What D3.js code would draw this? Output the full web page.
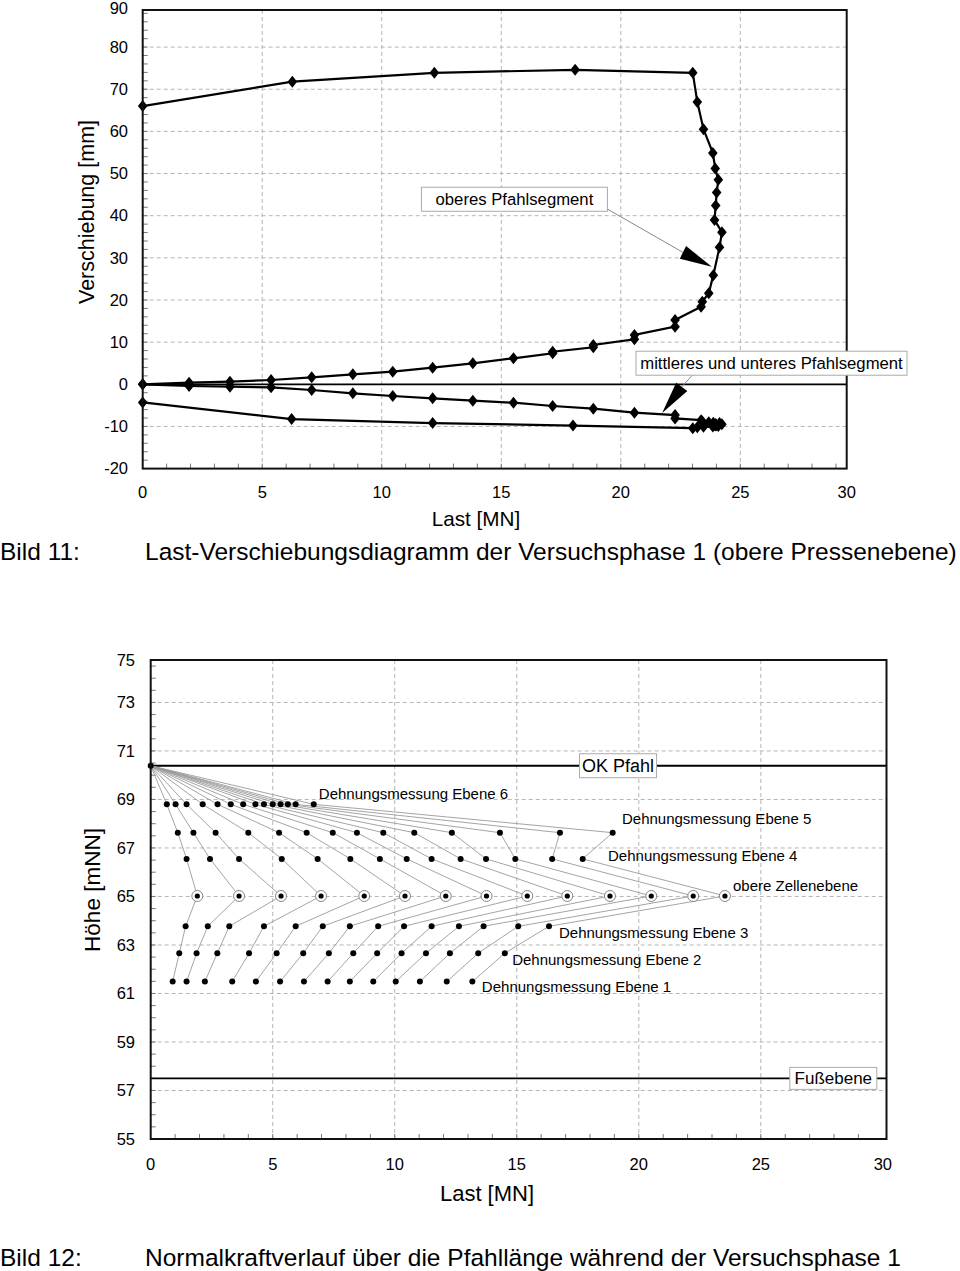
<!DOCTYPE html>
<html><head><meta charset="utf-8">
<script src="https://cdn.jsdelivr.net/npm/d3@7"></script>
<style>
body{margin:0;background:#fff}
text{font-family:"Liberation Sans",Arial,Helvetica,sans-serif;fill:#000}
</style>
</head><body>
<svg id="c" width="960" height="1271"></svg>
<script>
// ===================== DATA: chart 1 (Last-Verschiebung) =====================
const xTicks1 = [0, 5, 10, 15, 20, 25, 30];
const xTickLabels1 = ["0", "5", "10", "15", "20", "25", "30"];
const yTicks1 = [-20, -10, 0, 10, 20, 30, 40, 50, 60, 70, 80, 90];
const yTickLabels1 = ["-20", "-10", "0", "10", "20", "30", "40", "50", "60", "70", "80", "90"];

// oberes Pfahlsegment
const upperLoad = [0,1.94,3.65,5.37,7.07,8.79,10.46,12.13,13.81,15.51,17.15,17.15,18.85,18.85,20.57,20.57,22.27,22.27,23.36,23.41,23.68,23.87,24.13,24.23,23.92,23.97,24.01,24.08,23.95,23.85,23.46,23.20,23.01,18.09,12.2,6.26,0];
const upperDisp = [0,0.38,0.62,1.02,1.66,2.37,2.99,3.94,4.98,6.17,7.35,7.73,8.78,9.32,10.68,11.70,13.67,15.25,18.41,19.6,21.6,25.9,32.5,36.1,39.0,42.4,45.5,48.5,51.2,54.9,60.5,67.0,73.9,74.6,73.9,71.8,66.0];
// mittleres und unteres Pfahlsegment
const lowerLoad = [0,1.94,3.65,5.37,7.07,8.79,10.46,12.13,13.81,15.51,17.15,18.85,20.57,22.27,22.27,23.36,23.41,23.68,23.87,24.13,24.23,23.92,23.97,24.01,24.08,23.95,23.85,23.46,23.20,23.01,18.0,12.13,6.23,0];
const lowerDisp = [0,-0.4,-0.57,-0.71,-1.35,-2.14,-2.78,-3.32,-3.89,-4.37,-5.15,-5.79,-6.74,-7.3,-8.1,-8.5,-8.8,-9.0,-9.1,-9.2,-9.5,-9.6,-9.4,-9.7,-9.9,-9.8,-10.0,-10.1,-10.2,-10.4,-9.8,-9.2,-8.25,-4.3];

// ===================== DATA: chart 2 (Normalkraftverlauf) =====================
const xTicks2 = [0, 5, 10, 15, 20, 25, 30];
const xTickLabels2 = ["0", "5", "10", "15", "20", "25", "30"];
const yTicks2 = [55, 57, 59, 61, 63, 65, 67, 69, 71, 73, 75];
const yTickLabels2 = ["55", "57", "59", "61", "63", "65", "67", "69", "71", "73", "75"];

const levelNames = ["OK Pfahl", "Dehnungsmessung Ebene 6", "Dehnungsmessung Ebene 5", "Dehnungsmessung Ebene 4",
  "obere Zellenebene", "Dehnungsmessung Ebene 3", "Dehnungsmessung Ebene 2", "Dehnungsmessung Ebene 1"];
const levelHeights = [70.39, 68.80, 67.63, 66.55, 65.02, 63.77, 62.66, 61.49];
const footHeight = 57.5; // Fußebene
const forceHead = [0,0,0,0,0,0,0,0,0,0,0,0,0,0];
const forceE6 = [0.66,1.02,1.47,2.13,2.74,3.28,3.79,4.29,4.64,5.00,5.32,5.62,5.94,6.68];
const forceE5 = [1.11,1.75,2.66,4.00,5.26,6.39,7.46,8.45,9.53,10.80,12.34,14.31,16.77,18.93];
const forceE4 = [1.47,2.43,3.62,5.37,6.84,8.18,9.39,10.49,11.51,12.70,13.74,14.94,16.45,17.70];
const forceCell = [1.91,3.62,5.34,6.98,8.75,10.42,12.09,13.76,15.43,17.07,18.82,20.51,22.23,23.53];
const forceE3 = [1.43,2.34,3.22,4.64,5.94,7.05,8.16,9.32,10.38,11.51,12.63,13.64,15.06,16.32];
const forceE2 = [1.17,1.88,2.73,4.03,5.16,6.25,7.30,8.30,9.28,10.28,11.28,12.26,13.42,14.51];
const forceE1 = [0.90,1.47,2.22,3.34,4.31,5.30,6.28,7.25,8.16,9.12,10.04,11.03,12.13,13.18];

// ===================== DRAWING =====================
const svg = d3.select("#c");

function frame(g, sx, sy, xGrid, yGrid, xMinor, yMinor) {
  const [x0, x1] = sx.range(), [y0, y1] = sy.range();
  g.append("g").selectAll("line").data(xGrid).join("line")
    .attr("x1", d => sx(d)).attr("x2", d => sx(d)).attr("y1", y1).attr("y2", y0)
    .attr("stroke", "#b5b5b5").attr("stroke-width", 1).attr("stroke-dasharray", "4,3");
  g.append("g").selectAll("line").data(yGrid).join("line")
    .attr("x1", x0).attr("x2", x1).attr("y1", d => sy(d)).attr("y2", d => sy(d))
    .attr("stroke", "#b5b5b5").attr("stroke-width", 1).attr("stroke-dasharray", "4,3");
  g.append("g").selectAll("line").data(xMinor).join("line")
    .attr("x1", d => sx(d)).attr("x2", d => sx(d)).attr("y1", y0).attr("y2", y0 - 5)
    .attr("stroke", "#777").attr("stroke-width", 1);
  g.append("g").selectAll("line").data(yMinor).join("line")
    .attr("x1", x0).attr("x2", x0 + 5).attr("y1", d => sy(d)).attr("y2", d => sy(d))
    .attr("stroke", "#777").attr("stroke-width", 1);
}
function border(g, sx, sy) {
  const [x0, x1] = sx.range(), [y0, y1] = sy.range();
  g.append("rect").attr("x", x0).attr("y", y1).attr("width", x1 - x0).attr("height", y0 - y1)
    .attr("fill", "none").attr("stroke", "#111").attr("stroke-width", 2);
}
function tickLabels(g, sx, sy, xt, xl, yt, yl, xLabY, yLabX, topOff) {
  const [x0, x1] = sx.range(), [y0, y1] = sy.range();
  g.append("g").selectAll("text").data(xt).join("text")
    .attr("x", d => Math.min(sx(d), x1)).attr("y", xLabY)
    .attr("text-anchor", "middle").attr("font-size", 16.5).text((d, i) => xl[i]);
  g.append("g").selectAll("text").data(yt).join("text")
    .attr("x", yLabX).attr("y", d => Math.max(sy(d), y1 + topOff) + 5.8)
    .attr("text-anchor", "end").attr("font-size", 16.5).text((d, i) => yl[i]);
}
function labelBox(g, cx, cy, txt, size, w, h) {
  const gg = g.append("g");
  gg.append("rect").attr("x", cx - w / 2).attr("y", cy - h / 2).attr("width", w).attr("height", h)
    .attr("fill", "#fff").attr("stroke", "#aaa").attr("stroke-width", 1);
  gg.append("text").attr("x", cx).attr("y", cy + size * 0.36).attr("text-anchor", "middle")
    .attr("font-size", size).text(txt);
}
function arrow(g, sx, sy, from, base, tip, hw) {
  const bx = sx(base[0]), by = sy(base[1]), tx = sx(tip[0]), ty = sy(tip[1]);
  g.append("line").attr("x1", sx(from[0])).attr("y1", sy(from[1])).attr("x2", bx).attr("y2", by)
    .attr("stroke", "#888").attr("stroke-width", 1);
  const dx = tx - bx, dy = ty - by, L = Math.hypot(dx, dy), px = -dy / L * hw, py = dx / L * hw;
  g.append("path").attr("d", `M${tx},${ty}L${bx + px},${by + py}L${bx - px},${by - py}Z`).attr("fill", "#000");
}
const diamond = "M0,-6L4.8,0L0,6L-4.8,0Z";

// ---------- Chart 1 ----------
{
  const g = svg.append("g");
  const sx = d3.scaleLinear().domain([0, 29.45]).range([142.7, 846.7]);
  const sy = d3.scaleLinear().domain([-20, 88.8]).range([468.6, 10]);
  frame(g, sx, sy, [5, 10, 15, 20, 25], [-10, 10, 20, 30, 40, 50, 60, 70, 80],
    d3.range(1, 30), d3.range(-18, 89, 2));
  g.append("line").attr("x1", sx.range()[0]).attr("x2", sx.range()[1]).attr("y1", sy(0)).attr("y2", sy(0))
    .attr("stroke", "#000").attr("stroke-width", 1.8);
  const line = d3.line().x(d => sx(d[0])).y(d => sy(d[1]));
  const series = [d3.zip(upperLoad, upperDisp), d3.zip(lowerLoad, lowerDisp)];
  series.forEach(s => {
    g.append("path").attr("d", line(s)).attr("fill", "none").attr("stroke", "#000").attr("stroke-width", 2.2);
    g.append("g").selectAll("path").data(s).join("path").attr("d", diamond)
      .attr("transform", d => `translate(${sx(d[0])},${sy(d[1])})`).attr("fill", "#000");
  });
  border(g, sx, sy);
  tickLabels(g, sx, sy, xTicks1, xTickLabels1, yTicks1, yTickLabels1, 498, 128, -2);
  arrow(g, sx, sy, [19.43, 41.6], [22.6, 31.3], [23.81, 27.9], 7);
  labelBox(g, sx(15.55), sy(43.9), "oberes Pfahlsegment", 16.7, 186, 24);
  arrow(g, sx, sy, [23.0, 2.2], [22.55, -0.6], [21.73, -6.8], 7);
  labelBox(g, 771.5, sy(5.0), "mittleres und unteres Pfahlsegment", 16.7, 271, 24);
  g.append("text").attr("x", 476).attr("y", 526).attr("text-anchor", "middle").attr("font-size", 20.7).text("Last [MN]");
  g.append("text").attr("transform", "translate(94,212) rotate(-90)").attr("text-anchor", "middle")
    .attr("font-size", 21.5).text("Verschiebung [mm]");
  g.append("text").attr("x", 0).attr("y", 560).attr("font-size", 24.5).text("Bild 11:");
  g.append("text").attr("x", 145).attr("y", 560).attr("font-size", 24.5)
    .text("Last-Verschiebungsdiagramm der Versuchsphase 1 (obere Pressenebene)");
}

// ---------- Chart 2 ----------
{
  const g = svg.append("g");
  const sx = d3.scaleLinear().domain([0, 30.15]).range([150.7, 886.5]);
  const sy = d3.scaleLinear().domain([55, 74.75]).range([1139, 660]);
  frame(g, sx, sy, [5, 10, 15, 20, 25], [57, 59, 61, 63, 65, 67, 69, 71, 73],
    d3.range(1, 30), d3.range(55.5, 74.8, 0.5));
  [levelHeights[0], footHeight].forEach(h => {
    g.append("line").attr("x1", sx.range()[0]).attr("x2", sx.range()[1]).attr("y1", sy(h)).attr("y2", sy(h))
      .attr("stroke", "#000").attr("stroke-width", 1.8);
  });
  const forces = [forceHead, forceE6, forceE5, forceE4, forceCell, forceE3, forceE2, forceE1];
  const steps = d3.range(forceCell.length).map(i => forces.map((f, k) => [f[i], levelHeights[k]]));
  const line = d3.line().x(d => sx(d[0])).y(d => sy(d[1]));
  g.append("g").selectAll("path").data(steps).join("path").attr("d", line)
    .attr("fill", "none").attr("stroke", "#9a9a9a").attr("stroke-width", 0.9);
  g.append("g").selectAll("circle").data(forceCell).join("circle")
    .attr("cx", d => sx(d)).attr("cy", sy(levelHeights[4])).attr("r", 5.5)
    .attr("fill", "#fff").attr("stroke", "#888").attr("stroke-width", 1);
  forces.forEach((f, k) => {
    const pts = k === 0 ? [0] : f;
    g.append("g").selectAll("circle").data(pts).join("circle")
      .attr("cx", d => sx(d)).attr("cy", sy(levelHeights[k])).attr("r", k === 4 ? 2.6 : 3)
      .attr("fill", "#000");
  });
  border(g, sx, sy);
  tickLabels(g, sx, sy, xTicks2, xTickLabels2, yTicks2, yTickLabels2, 1170, 135, 0);
  const labelPos = [null, [6.89, 69.23], [19.31, 68.20], [18.74, 66.67], [23.86, 65.43], [16.73, 63.49], [14.81, 62.38], [13.57, 61.27]];
  labelPos.forEach((p, k) => {
    if (!p) return;
    g.append("text").attr("x", sx(p[0])).attr("y", sy(p[1]) + 5.3).attr("font-size", 15).text(levelNames[k]);
  });
  labelBox(g, sx(19.15), sy(levelHeights[0]), levelNames[0], 18, 77, 24);
  labelBox(g, sx(27.97), sy(footHeight), "Fußebene", 17, 87, 22);
  g.append("text").attr("x", 487).attr("y", 1201).attr("text-anchor", "middle").attr("font-size", 22).text("Last [MN]");
  g.append("text").attr("transform", "translate(100,890) rotate(-90)").attr("text-anchor", "middle")
    .attr("font-size", 22.5).text("Höhe [mNN]");
  g.append("text").attr("x", 0).attr("y", 1266).attr("font-size", 24.5).text("Bild 12:");
  g.append("text").attr("x", 145).attr("y", 1266).attr("font-size", 24.5)
    .text("Normalkraftverlauf über die Pfahllänge während der Versuchsphase 1");
}
</script>
</body></html>
